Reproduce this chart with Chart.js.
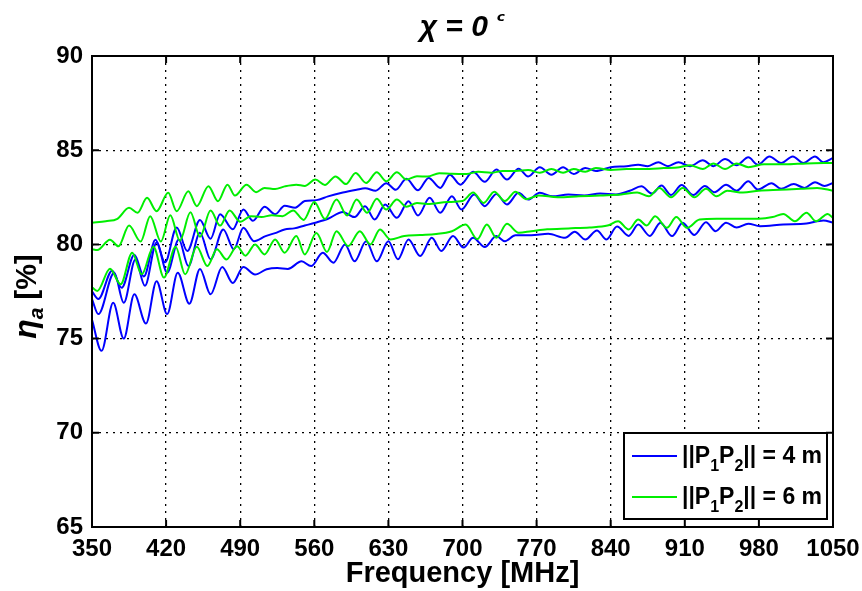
<!DOCTYPE html>
<html>
<head>
<meta charset="utf-8">
<script src="https://cdn.jsdelivr.net/npm/chart.js@4.4.0/dist/chart.umd.min.js"></script>
<style>
  html, body { margin: 0; padding: 0; background: #fff; }
  #wrap { width: 862px; height: 591px; }
</style>
</head>
<body>
<div id="wrap"><canvas id="chart" width="862" height="591"></canvas></div>
<script>
/* global Chart */

// tick labels
const tickX = [350, 420, 490, 560, 630, 700, 770, 840, 910, 980, 1050];
const tickY = [65, 70, 75, 80, 85, 90];

// ||P1P2|| = 4 m (blue), three curves: upper, middle, lower
const b1Freq = [350, 356, 369, 378, 390, 399, 410, 419, 430, 440, 452, 462, 471, 483, 493, 502, 513, 523, 532, 542, 551, 562, 573, 587, 600, 608, 618, 628, 637, 647, 658, 668, 679, 688, 698, 710, 721, 732, 742, 753, 762, 773, 784, 795, 805, 816, 826, 840, 855, 866, 875, 885, 894, 904, 915, 927, 937, 948, 959, 970, 979, 990, 1001, 1012, 1022, 1033, 1041, 1050];
const b1Val = [77.5, 77.1, 78.6, 77.7, 79.45, 78.3, 80.25, 79.05, 80.9, 79.65, 81.3, 80.3, 81.6, 80.8, 81.85, 81.25, 82.0, 81.6, 82.05, 81.95, 82.3, 82.35, 82.55, 82.75, 82.9, 82.98, 82.85, 83.25, 82.9, 83.48, 82.87, 83.53, 83.0, 83.7, 83.17, 83.85, 83.32, 83.97, 83.44, 84.02, 83.61, 84.09, 83.7, 84.09, 83.74, 84.06, 83.9, 84.1, 84.15, 84.23, 84.15, 84.36, 84.15, 84.36, 84.15, 84.46, 84.15, 84.53, 84.2, 84.62, 84.23, 84.67, 84.32, 84.67, 84.32, 84.67, 84.36, 84.59];

const b2Freq = [350, 356, 371, 380, 391, 400, 411, 421, 432, 441, 452, 462, 474, 484, 493, 503, 514, 523, 532, 541, 551, 561, 573, 587, 598, 608, 617, 627, 638, 649, 658, 669, 679, 690, 699, 711, 721, 732, 742, 753, 762, 773, 785, 800, 815, 830, 845, 858, 869, 879, 888, 897, 907, 918, 929, 938, 949, 959, 970, 979, 992, 1001, 1013, 1023, 1033, 1042, 1050];
const b2Val = [77.1, 76.3, 78.5, 76.9, 79.2, 77.8, 80.1, 78.5, 80.26, 78.85, 80.62, 79.21, 80.79, 79.74, 80.88, 80.17, 80.44, 80.6, 80.79, 80.85, 81.0, 81.15, 81.36, 81.72, 81.45, 82.03, 81.32, 82.12, 81.41, 82.29, 81.53, 82.47, 81.68, 82.56, 81.85, 82.65, 82.03, 82.68, 82.12, 82.74, 82.38, 82.74, 82.55, 82.65, 82.6, 82.7, 82.65, 82.85, 83.08, 82.7, 83.12, 82.62, 83.15, 82.62, 83.1, 82.77, 83.17, 82.85, 83.35, 82.91, 83.25, 82.95, 83.2, 83.0, 83.3, 83.1, 83.26];

const b3Freq = [350, 359, 370, 380, 390, 401, 411, 421, 431, 442, 452, 462, 473, 483, 493, 504, 515, 525, 535, 548, 557, 568, 578, 589, 598, 609, 619, 630, 639, 649, 660, 671, 680, 691, 701, 710, 721, 732, 740, 750, 765, 781, 797, 806, 816, 827, 836, 846, 857, 866, 877, 887, 898, 908, 919, 930, 939, 949, 959, 970, 981, 1003, 1025, 1041, 1050];
const b3Val = [76.0, 74.35, 76.9, 75.0, 77.35, 75.8, 78.05, 76.3, 78.5, 76.85, 78.7, 77.35, 78.8, 77.95, 78.8, 78.4, 78.68, 78.75, 78.7, 79.1, 78.85, 79.56, 79.03, 80.0, 79.1, 80.17, 79.1, 80.17, 79.21, 80.26, 79.38, 80.35, 79.65, 80.44, 79.83, 80.35, 79.86, 80.44, 80.17, 80.48, 80.48, 80.56, 80.35, 80.67, 80.26, 80.74, 80.26, 80.95, 80.45, 81.05, 80.45, 81.15, 80.44, 81.15, 80.5, 81.18, 80.7, 81.15, 80.9, 81.1, 80.97, 81.06, 81.11, 81.27, 81.15];

// ||P1P2|| = 6 m (green), three curves: upper, middle, lower
const g1Freq = [350, 363, 374, 385, 393, 402, 411, 422, 430, 441, 449, 460, 469, 478, 485, 496, 505, 513, 523, 532, 543, 551, 561, 570, 580, 590, 599, 609, 619, 628, 638, 647, 657, 667, 678, 690, 704, 715, 727, 738, 750, 762, 773, 784, 795, 805, 816, 826, 840, 855, 870, 890, 905, 915, 927, 937, 948, 959, 970, 985, 1005, 1025, 1050];
const g1Val = [81.15, 81.23, 81.36, 81.94, 81.68, 82.47, 81.76, 82.74, 81.76, 82.82, 82.03, 83.09, 82.29, 83.17, 82.59, 83.17, 82.77, 83.0, 82.94, 83.08, 83.17, 83.1, 83.44, 83.15, 83.61, 83.2, 83.79, 83.26, 83.83, 83.35, 83.83, 83.44, 83.62, 83.6, 83.78, 83.75, 83.74, 83.85, 83.8, 83.9, 83.9, 83.95, 83.8, 84.0, 83.8, 84.0, 83.85, 84.05, 83.95, 84.0, 84.0, 84.05, 84.1, 84.2, 84.0, 84.3, 84.0, 84.3, 84.1, 84.25, 84.25, 84.3, 84.32];

const g2Freq = [350, 355, 367, 375, 385, 396, 405, 415, 424, 433, 443, 452, 462, 471, 480, 490, 500, 510, 520, 530, 540, 550, 560, 570, 581, 591, 600, 610, 619, 628, 638, 647, 657, 667, 686, 700, 710, 720, 730, 740, 750, 760, 772, 790, 810, 830, 850, 865, 876, 886, 897, 908, 919, 930, 940, 950, 965, 980, 1000, 1020, 1035, 1050];
const g2Val = [79.75, 79.7, 80.25, 79.9, 81.0, 80.15, 81.5, 80.15, 81.55, 80.2, 81.7, 80.4, 81.8, 81.0, 81.8, 81.2, 81.5, 81.45, 81.55, 81.5, 81.8, 81.3, 82.25, 81.35, 82.38, 81.53, 82.38, 81.68, 82.42, 81.85, 82.38, 82.0, 82.2, 82.15, 82.25, 82.3, 82.75, 82.2, 82.8, 82.3, 82.8, 82.4, 82.6, 82.5, 82.55, 82.6, 82.65, 82.75, 82.55, 83.0, 82.5, 83.0, 82.5, 82.95, 82.55, 82.85, 82.75, 82.85, 82.9, 82.95, 83.0, 82.85];

const g3Freq = [350, 355, 367, 377, 388, 397, 408, 418, 429, 438, 449, 459, 468, 477, 487, 495, 504, 513, 523, 532, 543, 551, 562, 572, 581, 592, 603, 613, 622, 632, 645, 660, 675, 690, 703, 714, 723, 732, 742, 753, 765, 780, 800, 820, 837, 847, 857, 866, 874, 882, 893, 902, 912, 924, 940, 960, 980, 993, 1003, 1014, 1025, 1034, 1045, 1050];
const g3Val = [77.72, 77.53, 78.71, 77.88, 79.56, 78.41, 79.88, 78.24, 79.88, 78.41, 79.88, 78.85, 79.74, 79.2, 79.9, 79.4, 80.0, 79.47, 80.26, 79.56, 80.44, 79.47, 80.6, 79.6, 80.7, 79.91, 80.7, 80.0, 80.79, 80.26, 80.45, 80.5, 80.55, 80.7, 81.05, 80.28, 81.06, 80.35, 81.09, 80.62, 80.7, 80.8, 80.85, 80.9, 81.0, 81.23, 80.79, 81.32, 81.0, 81.5, 80.88, 81.45, 80.88, 81.32, 81.36, 81.36, 81.36, 81.45, 81.62, 81.23, 81.68, 81.23, 81.62, 81.4];

const BLUE = '#0000ff';
const GREEN = '#00ee00';
const FONT = '"Liberation Sans", Arial, Helvetica, sans-serif';

function pts(freqs, vals) {
  return freqs.map(function (f, i) { return { x: f, y: vals[i] }; });
}

function curve(freqs, vals, color, order) {
  return {
    data: pts(freqs, vals),
    borderColor: color,
    backgroundColor: color,
    borderWidth: 2,
    pointRadius: 0,
    fill: false,
    cubicInterpolationMode: 'monotone',
    order: order
  };
}

// draws a run of text pieces (font, offset) starting at x
function richText(ctx, parts, x, y, align) {
  let total = 0;
  parts.forEach(function (p) { ctx.font = p.font; total += ctx.measureText(p.t).width; });
  let cx = align === 'center' ? x - total / 2 : x;
  parts.forEach(function (p) {
    ctx.font = p.font;
    ctx.fillText(p.t, cx, y + (p.dy || 0));
    cx += ctx.measureText(p.t).width;
  });
}

const decor = {
  id: 'decor',
  afterDatasetsDraw(chart) {
    const ctx = chart.ctx;
    const a = chart.chartArea;
    const xs = chart.scales.x;
    const ys = chart.scales.y;
    ctx.save();
    ctx.strokeStyle = '#000';
    ctx.lineWidth = 2;
    ctx.strokeRect(a.left, a.top, a.right - a.left, a.bottom - a.top);

    // inward ticks on all four sides
    ctx.beginPath();
    tickX.forEach(function (v) {
      const px = xs.getPixelForValue(v);
      ctx.moveTo(px, a.bottom); ctx.lineTo(px, a.bottom - 7);
      ctx.moveTo(px, a.top); ctx.lineTo(px, a.top + 7);
    });
    tickY.forEach(function (v) {
      const py = ys.getPixelForValue(v);
      ctx.moveTo(a.left, py); ctx.lineTo(a.left + 7, py);
      ctx.moveTo(a.right, py); ctx.lineTo(a.right - 7, py);
    });
    ctx.stroke();

    // legend box
    const bx = a.right - 209, by = a.bottom - 94, bw = 203, bh = 86;
    ctx.fillStyle = '#fff';
    ctx.fillRect(bx, by, bw, bh);
    ctx.lineWidth = 2;
    ctx.strokeRect(bx, by, bw, bh);

    const rows = [{ c: BLUE, d: '4' }, { c: GREEN, d: '6' }];
    rows.forEach(function (r, i) {
      const ly = by + 23 + i * 41;
      ctx.strokeStyle = r.c;
      ctx.lineWidth = 2;
      ctx.beginPath();
      ctx.moveTo(bx + 8, ly);
      ctx.lineTo(bx + 53, ly);
      ctx.stroke();
      ctx.fillStyle = '#000';
      ctx.textBaseline = 'alphabetic';
      const big = 'bold 23px ' + FONT;
      const sub = 'bold 16px ' + FONT;
      richText(ctx, [
        { t: '||P', font: big },
        { t: '1', font: sub, dy: 8 },
        { t: 'P', font: big },
        { t: '2', font: sub, dy: 8 },
        { t: '|| = ' + r.d + ' m', font: big }
      ], bx + 58, ly + 7, 'left');
    });
    ctx.restore();
  },
  afterDraw(chart) {
    const ctx = chart.ctx;
    const a = chart.chartArea;
    const cx = (a.left + a.right) / 2;
    ctx.save();
    ctx.fillStyle = '#000';
    ctx.textBaseline = 'alphabetic';

    // title
    richText(ctx, [
      { t: '\u03c7 = 0 ', font: 'italic bold 30px ' + FONT },
      { t: '\u1d9c', font: 'italic bold 22px "DejaVu Sans", ' + FONT, dy: -8 }
    ], cx, 36, 'center');

    // x axis title
    richText(ctx, [{ t: 'Frequency [MHz]', font: 'bold 29px ' + FONT }], cx, 582, 'center');

    // y axis title, rotated
    ctx.translate(36, (a.top + a.bottom) / 2 + 5);
    ctx.rotate(-Math.PI / 2);
    richText(ctx, [
      { t: '\u03b7', font: 'italic bold 32px ' + FONT },
      { t: 'a', font: 'italic bold 21px ' + FONT, dy: 7 },
      { t: ' [%]', font: 'bold 29px ' + FONT }
    ], 0, 0, 'center');
    ctx.restore();
  }
};

const chart1 = document.getElementById('chart').getContext('2d');

new Chart(chart1, {
  type: 'line',
  data: {
    datasets: [
      curve(b1Freq, b1Val, BLUE, 1),
      curve(b2Freq, b2Val, BLUE, 1),
      curve(b3Freq, b3Val, BLUE, 1),
      curve(g1Freq, g1Val, GREEN, 0),
      curve(g2Freq, g2Val, GREEN, 0),
      curve(g3Freq, g3Val, GREEN, 0)
    ]
  },
  options: {
    responsive: false,
    animation: false,
    layout: { padding: { top: 56, right: 29, left: 0, bottom: 0 } },
    plugins: {
      legend: { display: false },
      tooltip: { enabled: false },
      title: { display: false }
    },
    scales: {
      x: {
        type: 'linear',
        min: 350,
        max: 1050,
        afterFit: function (s) { s.height = 64; s.paddingRight = 0; s.paddingLeft = 0; },
        afterBuildTicks: function (s) { s.ticks = tickX.map(function (v) { return { value: v }; }); },
        grid: { color: '#000', lineWidth: 1.3, drawTicks: false },
        border: { display: false, dash: [2, 5] },
        ticks: {
          autoSkip: false,
          maxRotation: 0,
          padding: 8,
          color: '#000',
          font: { family: FONT, size: 24, weight: 'bold' },
          callback: function (v) { return String(v); }
        }
      },
      y: {
        type: 'linear',
        min: 65,
        max: 90,
        afterFit: function (s) { s.width = 92; s.paddingTop = 0; s.paddingBottom = 0; },
        afterBuildTicks: function (s) { s.ticks = tickY.map(function (v) { return { value: v }; }); },
        grid: { color: '#000', lineWidth: 1.3, drawTicks: false },
        border: { display: false, dash: [2, 5] },
        ticks: {
          padding: 9,
          color: '#000',
          font: { family: FONT, size: 24, weight: 'bold' },
          callback: function (v) { return String(v); }
        }
      }
    }
  },
  plugins: [decor]
});
</script>
</body>
</html>
